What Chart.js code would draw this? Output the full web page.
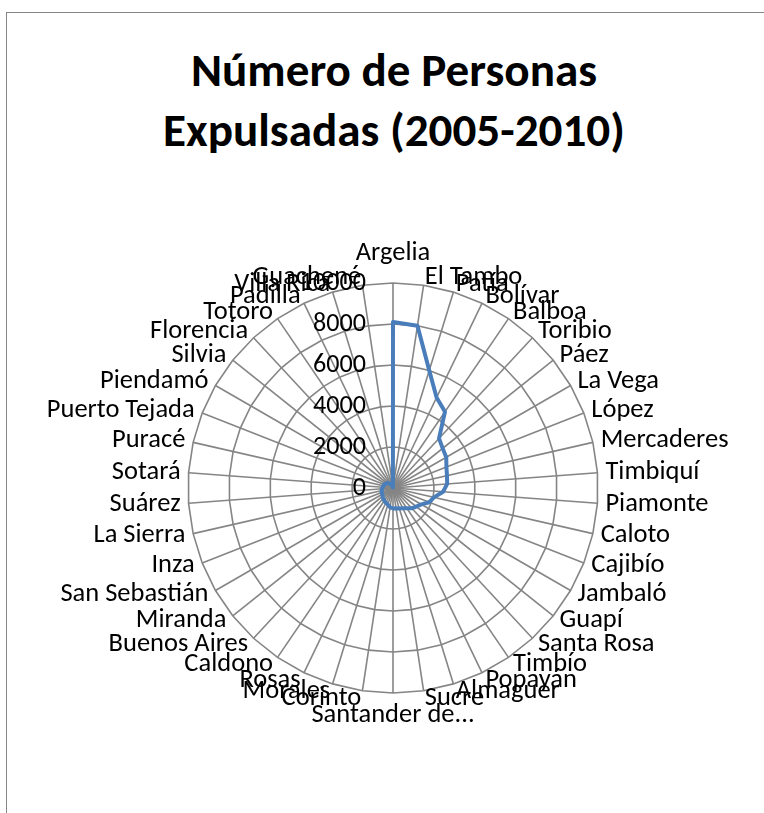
<!DOCTYPE html>
<html>
<head>
<meta charset="utf-8">
<script src="https://cdn.jsdelivr.net/npm/chart.js@4.4.0/dist/chart.umd.min.js"></script>
<style>
html, body { margin: 0; padding: 0; background: #fff; overflow: hidden; }
#wrap { position: relative; width: 764px; height: 813px; }
#frame { position: absolute; left: 6px; top: 12px; width: 800px; height: 900px; border: 1px solid #868686; box-sizing: border-box; }
#title { position: absolute; left: 0; top: 40px; width: 788px; text-align: center; font-family: Carlito, Lato, sans-serif; font-weight: bold; line-height: 60px; color: #000; }
canvas { position: absolute; left: 0; top: 0; }
</style>
</head>
<body>
<div id="wrap">
  <div id="frame"></div>
  <div id="title">Número de Personas<br>Expulsadas (2005-2010)</div>
  <canvas id="chart" width="764" height="813"></canvas>
</div>
<script>
var categories = ["Argelia", "El Tambo", "Patía", "Bolívar", "Balboa", "Toribio", "Páez", "La Vega",
  "López", "Mercaderes", "Timbiquí", "Piamonte", "Caloto", "Cajibío", "Jambaló", "Guapí",
  "Santa Rosa", "Timbío", "Popayán", "Almaguer", "Sucre", "Santander de...", "Corinto", "Morales",
  "Rosas", "Caldono", "Buenos Aires", "Miranda", "San Sebastián", "Inza", "La Sierra", "Suárez",
  "Sotará", "Puracé", "Puerto Tejada", "Piendamó", "Silvia", "Florencia", "Totoro", "Padilla",
  "Villa Rica", "Guachené"];
var personas = [8100, 8000, 6000, 4900, 4500, 3300, 3100, 3000,
  2800, 2700, 2650, 2450, 2050, 1900, 1600, 1450,
  1350, 1200, 1100, 1050, 1000, 1000, 950, 850,
  800, 750, 700, 650, 600, 600, 550, 550,
  500, 480, 450, 420, 380, 330, 250, 150,
  80, 30];
var tickValues = [0, 2000, 4000, 6000, 8000, 10000];

var family = "Carlito, Lato, sans-serif";

// pick font sizes so text widths match the Excel picture
function fitSize(text, width, weight) {
  var c = document.createElement("canvas").getContext("2d");
  c.font = weight + " 100px " + family;
  return 100 * width / c.measureText(text).width;
}
var labelSize = fitSize("Puerto Tejada", 148, "normal");
var tickSize = fitSize("8000", 53, "normal");
document.getElementById("title").style.fontSize = fitSize("Expulsadas (2005-2010)", 462, "bold") + "px";

// Excel style: labels start right at the anchor, centred only at top and bottom
var excelLabels = {
  id: "excelLabels",
  afterDatasetsDraw: function(chart) {
    var scale = chart.scales.r;
    var ctx = chart.ctx;
    ctx.save();
    ctx.fillStyle = "#000";
    ctx.textBaseline = "middle";

    ctx.font = tickSize + "px " + family;
    ctx.textAlign = "right";
    tickValues.forEach(function(v) {
      var p = scale.getPointPositionForValue(0, v);
      ctx.fillText(String(v), p.x - 27, p.y);
    });

    ctx.font = labelSize + "px " + family;
    categories.forEach(function(name, i) {
      var a = scale.getIndexAngle(i) * 180 / Math.PI;
      var p = scale.getPointPosition(i, scale.drawingArea + 8);
      var y = p.y;
      if (Math.abs(a) < 0.5 || Math.abs(a - 360) < 0.5) {
        ctx.textAlign = "center";
        y -= labelSize * 0.8;
      } else if (Math.abs(a - 180) < 0.5) {
        ctx.textAlign = "center";
        y += labelSize * 0.55;
      } else {
        ctx.textAlign = a < 180 ? "left" : "right";
      }
      ctx.fillText(name, p.x, y);
    });
    ctx.restore();
  }
};

new Chart(document.getElementById("chart").getContext("2d"), {
  type: "radar",
  data: {
    labels: categories,
    datasets: [{
      label: "Personas expulsadas",
      data: personas,
      borderColor: "#4a7ebb",
      borderWidth: 4,
      borderJoinStyle: "round",
      pointRadius: 0,
      fill: false,
      tension: 0
    }]
  },
  options: {
    responsive: false,
    animation: false,
    layout: { padding: { left: 188, top: 283, right: 166, bottom: 120 } },
    plugins: { legend: { display: false }, title: { display: false }, tooltip: { enabled: false } },
    scales: {
      r: {
        min: 0,
        max: 10000,
        ticks: { stepSize: 2000, display: false },
        pointLabels: { display: false },
        grid: { color: "#858585", lineWidth: 1.6 },
        angleLines: { color: "#858585", lineWidth: 1.6 }
      }
    }
  },
  plugins: [excelLabels]
});
</script>
</body>
</html>
